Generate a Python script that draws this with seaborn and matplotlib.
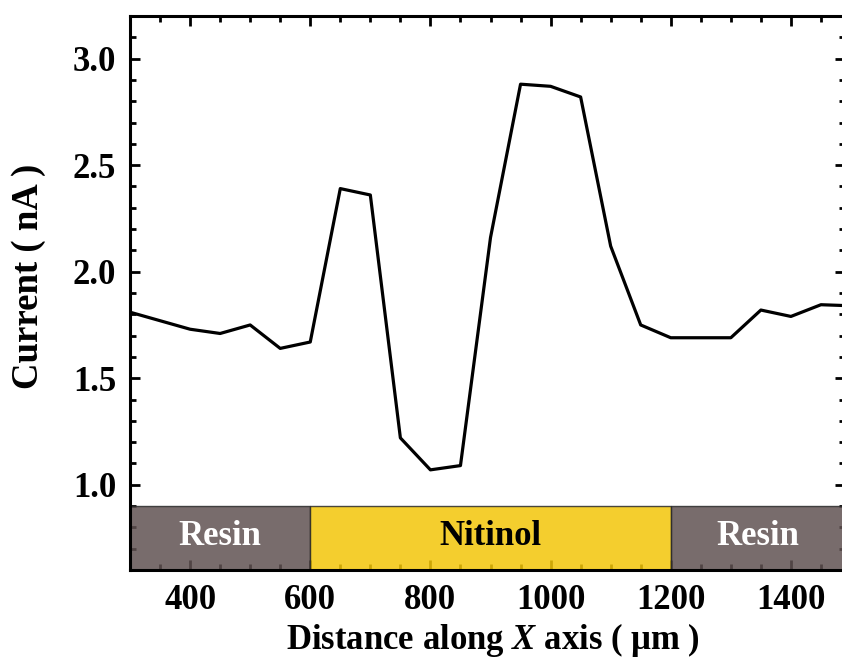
import matplotlib
matplotlib.use("Agg")
import matplotlib.pyplot as plt
import seaborn as sns
import pandas as pd
from matplotlib.patches import Rectangle

# Line-scan current across the sample
distance_um = [300, 350, 400, 450, 500, 550, 600, 650, 700, 750, 800, 850, 900,
               950, 1000, 1050, 1100, 1150, 1200, 1250, 1300, 1350, 1400, 1450, 1500]
current_nA = [1.81, 1.77, 1.73, 1.71, 1.75, 1.64, 1.67, 2.39, 2.36, 1.22, 1.07, 1.09, 2.16,
              2.88, 2.87, 2.82, 2.12, 1.75, 1.69, 1.69, 1.69, 1.82, 1.79, 1.845, 1.84]

# Material regions along the scan
region_names = ["Resin", "Nitinol", "Resin"]
region_start = [300, 600, 1200]
region_end = [600, 1200, 1500]
region_colors = ["#605252", "#f3c609", "#605252"]
region_text_colors = ["white", "black", "white"]

x_ticks = [400, 600, 800, 1000, 1200, 1400]
y_ticks = [1.0, 1.5, 2.0, 2.5, 3.0]

sns.set_style("ticks")
plt.rcParams["font.family"] = ["Liberation Serif", "DejaVu Serif"]
plt.rcParams["font.weight"] = "bold"
plt.rcParams["mathtext.fontset"] = "custom"
plt.rcParams["mathtext.it"] = "Liberation Serif:italic:bold"
plt.rcParams["mathtext.rm"] = "Liberation Serif:bold"
for key in ["text.color", "axes.labelcolor", "xtick.color", "ytick.color",
            "axes.edgecolor"]:
    plt.rcParams[key] = "black"

fig = plt.figure(figsize=(8.42, 6.59), dpi=100)
ax = fig.add_axes([130 / 842, 1 - 570 / 659, 715 / 842, 554 / 659])

df = pd.DataFrame({"distance": distance_um, "current": current_nA})
sns.lineplot(data=df, x="distance", y="current", ax=ax, color="black",
             linewidth=2.3, zorder=5)

band_lo, band_hi = 0.6, 0.9
for name, x0, x1, c, tc in zip(region_names, region_start, region_end,
                               region_colors, region_text_colors):
    ax.add_patch(Rectangle((x0, band_lo), x1 - x0, band_hi - band_lo,
                           facecolor=c, edgecolor="#2a2a2a", linewidth=1.0,
                           alpha=0.85, zorder=3))
    xm = (x0 + min(x1, 1490)) / 2
    ax.text(xm, (band_lo + band_hi) / 2 + 0.005, name, ha="center", va="center",
            fontsize=25, fontweight="bold", color=tc, zorder=6)

ax.set_xlim(300, 1490)
ax.set_ylim(0.6, 3.2)
ax.set_xticks(x_ticks)
ax.set_yticks(y_ticks)
ax.set_xticks(range(300, 1500, 50), minor=True)
ax.set_yticks([0.7 + 0.1 * i for i in range(25)], minor=True)
ax.set_yticklabels([f"{v:.1f}" for v in y_ticks])

ax.tick_params(which="both", direction="in", top=True, right=True, width=2,
               labelsize=25, pad=10)
ax.tick_params(which="major", length=7)
ax.tick_params(which="minor", length=4)
for lab in ax.get_xticklabels() + ax.get_yticklabels():
    lab.set_fontweight("bold")

for s in ax.spines.values():
    s.set_linewidth(2.2)
    s.set_zorder(4)

ax.set_xlabel(r"Distance along $X$ axis ( μm )", fontsize=25, fontweight="bold")
ax.set_ylabel("Current ( nA )", fontsize=26.5, fontweight="bold")
ax.xaxis.set_label_coords(0.507, -0.092)
ax.yaxis.set_label_coords(-0.118, 0.53)

fig.savefig("out.png", dpi=100)
